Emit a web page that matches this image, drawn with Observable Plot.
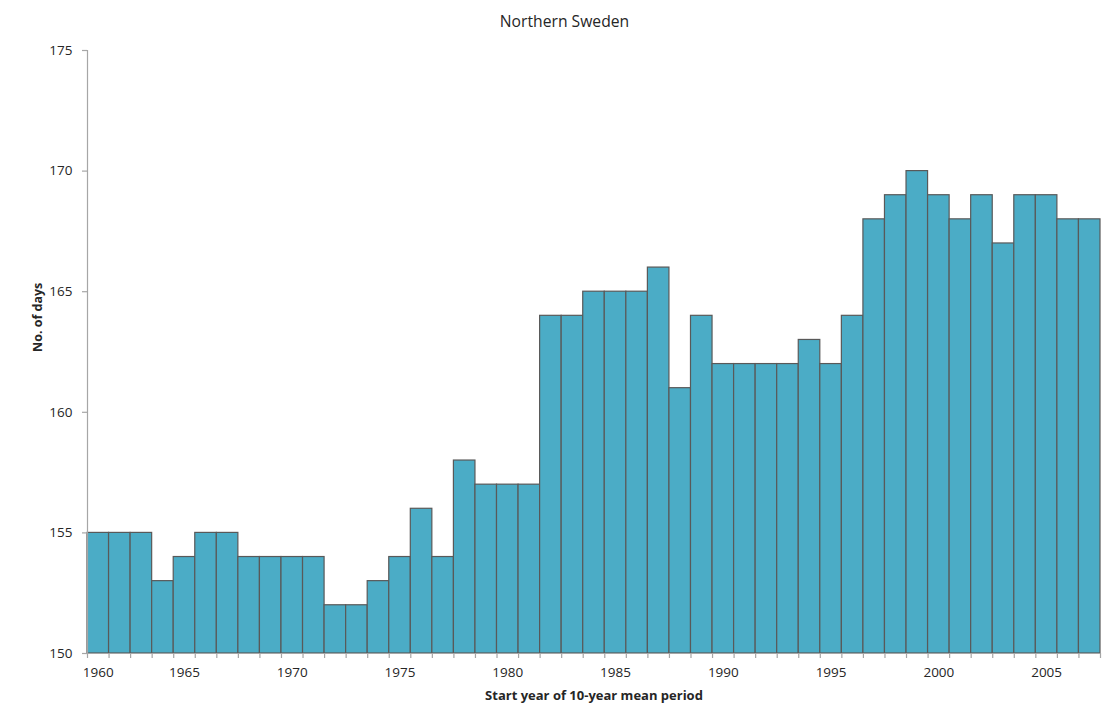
<!DOCTYPE html>
<html>
<head>
<meta charset="utf-8">
<script src="https://cdn.jsdelivr.net/npm/d3@7"></script>
<script src="https://cdn.jsdelivr.net/npm/@observablehq/plot@0.6"></script>
<style>
  body { margin: 0; background: #fff; }
  #chart svg { display: block; }
</style>
</head>
<body>
<div id="chart"></div>
<script>
// Start years of the 10-year mean periods (one bar each)
const years = d3.range(1961, 2008);
// Number of days
const days = [
  155, 155, 155, 153, 154, 155, 155, 154, 154, 154,
  154, 152, 152, 153, 154, 156, 154, 158, 157, 157,
  157, 164, 164, 165, 165, 165, 166, 161, 164, 162,
  162, 162, 162, 163, 162, 164, 168, 169, 170, 169,
  168, 169, 167, 169, 169, 168, 168
];
// x tick labels and the bars they sit under
const tickYears  = [1961, 1965, 1970, 1975, 1980, 1985, 1990, 1995, 2000, 2005];
const tickLabels = ["1960", "1965", "1970", "1975", "1980", "1985", "1990", "1995", "2000", "2005"];
const yTicks = [150, 155, 160, 165, 170, 175];
const yMin = 150, yMax = 175;

const title = "Northern Sweden";
const xTitle = "Start year of 10-year mean period";
const yTitle = "No. of days";

const data = years.map((year, i) => ({year, value: days[i]}));
const boundaries = d3.range(years[0], years[years.length - 1] + 2);

const axisColor = "#a6a6a6";
const textColor = "#262626";
const font = "'Open Sans', 'Noto Sans', sans-serif";

const chart = Plot.plot({
  width: 1113,
  height: 707,
  marginLeft: 87,
  marginRight: 13,
  marginTop: 50,
  marginBottom: 54,
  style: {fontFamily: font, fontSize: "13px", color: textColor, background: "#fff"},
  x: {type: "linear", domain: [boundaries[0], boundaries[boundaries.length - 1]]},
  y: {domain: [yMin, yMax]},
  marks: [
    Plot.rectY(data, {
      x1: "year",
      x2: d => d.year + 1,
      y1: yMin,
      y2: "value",
      fill: "#4bacc6",
      stroke: "#595959",
      strokeWidth: 1.2
    }),
    Plot.ruleX([boundaries[0]], {stroke: axisColor, strokeWidth: 1.2}),
    Plot.ruleY([yMin], {stroke: axisColor, strokeWidth: 1.2}),
    Plot.axisY({
      ticks: yTicks,
      tickSize: 5,
      tickPadding: 10,
      stroke: axisColor,
      strokeWidth: 1.2,
      label: null,
      fontSize: 13.5
    }),
    Plot.axisX({
      ticks: boundaries,
      tickSize: 5,
      stroke: axisColor,
      strokeWidth: 1.2,
      tickFormat: () => "",
      label: null
    }),
    Plot.axisX({
      ticks: tickYears.map(y => y + 0.5),
      tickSize: 0,
      tickPadding: 14,
      tickFormat: d => tickLabels[tickYears.indexOf(d - 0.5)],
      label: null,
      fontSize: 13.5
    }),
    Plot.text([title], {
      frameAnchor: "top-left",
      dx: 477,
      dy: -35,
      textAnchor: "middle",
      fontSize: 15.7,
      fill: textColor
    }),
    Plot.text([xTitle], {
      frameAnchor: "bottom",
      dy: 46,
      fontSize: 13,
      fontWeight: "bold",
      fill: textColor
    }),
    Plot.text([yTitle], {
      frameAnchor: "left",
      dx: -50,
      rotate: -90,
      fontSize: 12.5,
      fontWeight: "bold",
      fill: textColor
    })
  ]
});

document.getElementById("chart").appendChild(chart);
</script>
</body>
</html>
